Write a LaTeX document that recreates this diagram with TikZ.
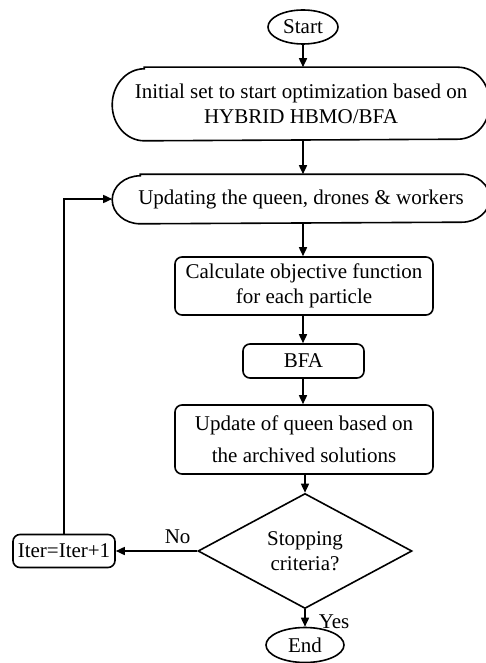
\documentclass[tikz,border=0pt]{standalone}
\usepackage{fontspec}
\setmainfont{Liberation Serif}
\usetikzlibrary{shapes.geometric,arrows.meta}
\begin{document}
\begin{tikzpicture}[x=1pt,y=-1pt,
    font=\fontsize{21}{25}\selectfont,
    every node/.style={line width=1.6pt, align=center, inner sep=2pt},
    term/.style={draw, ellipse, inner sep=0pt},
    pill/.style={rectangle, inner sep=0pt},
    outline/.style={line width=1.6pt},
    box/.style={draw, rectangle, rounded corners=7pt},
    decision/.style={draw, diamond, inner sep=0pt, minimum width=214, minimum height=105},
    arr/.style={line width=1.6pt, -{Triangle[length=9pt,width=8pt]}}]
       \clip (0,0) rectangle (486,663);
       \node[term, minimum width=70, minimum height=34] (start) at (303,27) {Start};
       \node[pill, minimum width=376, minimum height=72] (init) at (301,104) {Initial set to start optimization based on\\HYBRID HBMO/BFA};
       \node[pill, minimum width=376, minimum height=48] (upd) at (301,199) {Updating the queen, drones \& workers};
       \draw[outline] ([xshift=32pt]init.north west) -- ([xshift=-32pt]init.north east)
             arc[start angle=90, end angle=-90, x radius=32pt, y radius=36pt]
             -- ([xshift=32pt]init.south west)
             arc[start angle=270, end angle=90, x radius=32pt, y radius=36pt] -- cycle;
       \draw[outline] ([xshift=28pt]upd.north west) -- ([xshift=-28pt]upd.north east)
             arc[start angle=90, end angle=-90, x radius=28pt, y radius=24pt]
             -- ([xshift=28pt]upd.south west)
             arc[start angle=270, end angle=90, x radius=28pt, y radius=24pt] -- cycle;
       \node[box, minimum width=258, minimum height=58] (calc) at (304,286) {Calculate objective function\\for each particle};
       \node[box, minimum width=121, minimum height=34] (bfa) at (303.5,361) {BFA};
       \node[box, minimum width=258, minimum height=69] (upq) at (304,439.5) {Update of queen based on\\[7pt]the archived solutions};
       \node[decision] (stop) at (305,551) {Stopping\\criteria?};
       \node[box, minimum width=102, minimum height=33] (iter) at (64,551) {Iter=Iter+1};
       \node[term, minimum width=78, minimum height=35] (end) at (305,645) {End};
       \draw[arr] (start.south) -- (start.south |- init.north);
       \draw[arr] (init.south -| start.south) -- (start.south |- upd.north);
       \draw[arr] (upd.south -| start.south) -- (start.south |- calc.north);
       \draw[arr] (calc.south -| start.south) -- (start.south |- bfa.north);
       \draw[arr] (bfa.south -| start.south) -- (start.south |- upq.north);
       \draw[arr] (upq.south -| stop.north) -- (stop.north);
       \draw[arr] (stop.west) -- (iter.east) node[pos=0.24, above=5pt] {No};
       \draw[arr] (iter.north) |- (upd.west);
       \draw[arr] (stop.south) -- (end.north) node[pos=0.7, right=11pt] {Yes};
\end{tikzpicture}
\end{document}
